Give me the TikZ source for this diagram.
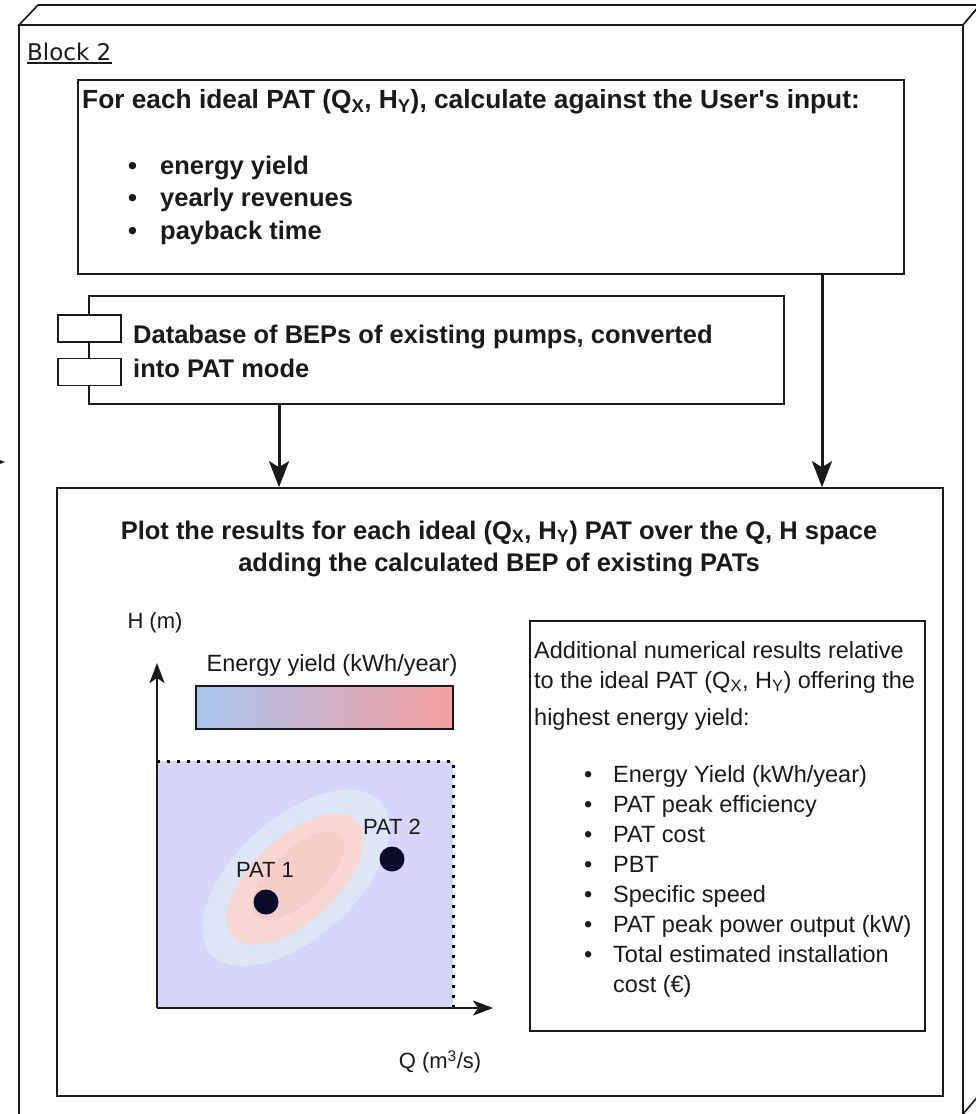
\documentclass[tikz,border=0pt]{standalone}
\usepackage{fontspec}
\setmainfont{Liberation Sans}
\newfontfamily\blockfont{DejaVu Sans}
\usetikzlibrary{arrows.meta,positioning,calc}
\definecolor{ink}{HTML}{1A1A1A}
\definecolor{region}{HTML}{D6D6F8}
\definecolor{haloB}{HTML}{DCE6F6}
\definecolor{haloR}{HTML}{F8D6D1}
\definecolor{coreR}{HTML}{F6CEC9}
\definecolor{patdot}{HTML}{0B0B2B}
\definecolor{barlow}{HTML}{A8C4EC}
\definecolor{barhigh}{HTML}{F6A0A0}
\tikzset{
  % ---- boxes -----------------------------------------------------
  frame/.style   = {draw=ink, line width=1.6pt, line join=miter},
  box/.style     = {draw=ink, line width=1.6pt, fill=white, inner sep=0pt},
  part/.style    = {box, minimum width=63pt, minimum height=27pt},
  % ---- texts -----------------------------------------------------
  hd/.style      = {font=\fontsize{25.5}{32.5}\selectfont\bfseries,
                    text=ink, inner sep=0pt},
  dbtxt/.style   = {hd, font=\fontsize{25.5}{34}\selectfont\bfseries},
  txt/.style     = {font=\fontsize{23.5}{30}\selectfont, text=ink,
                    inner sep=0pt},
  lbl/.style     = {font=\fontsize{22}{26}\selectfont, text=ink,
                    inner sep=0pt},
  blk/.style     = {font=\blockfont\fontsize{23}{28}\selectfont, text=ink,
                    inner sep=0pt},
  % ---- connectors ------------------------------------------------
  flow/.style    = {draw=ink, line width=3pt,
                    -{Stealth[length=26pt, width=20pt, inset=6pt]}},
  axis/.style    = {draw=ink, line width=2.4pt,
                    -{Stealth[length=20pt, width=15pt, inset=5pt]}},
  % ---- plot ------------------------------------------------------
  pat/.style     = {circle, fill=patdot, minimum size=25pt, inner sep=0pt},
  edge/.style    = {draw=black, line width=3pt, dash pattern=on 3pt off 7pt},
}
\begin{document}
\begin{tikzpicture}[x=1pt, y=-1pt]
\useasboundingbox (0,0) rectangle (976,1114);
\fill[white] (0,0) rectangle (976,1114);
\clip (0,0) rectangle (976,1114);
% outer block
\draw[frame, fill=white] (19,25) -- (38,5) -- (980,5) -- (963,25) -- cycle;
\draw[frame, fill=white] (963,25) -- (980,5) -- (980,1094) -- (963,1114);
\draw[frame, fill=white] (19,25) rectangle (963,1120);
\node[blk, anchor=base west] (blk) at (27,60) {Block 2};
\draw[ink, line width=1.3pt] ([yshift=-3pt]blk.base west) -- ([yshift=-3pt]blk.base east);
% incoming arrow from the left
\coordinate (inS) at (-40,462);
\coordinate (inE) at (5,462);
\draw[flow] (inS) -- (inE);
% calculation box
\node[box, minimum width=826pt, minimum height=194pt] (calcbox) at (491,177) {};
\node[hd, font=\fontsize{26.3}{32.5}\selectfont\bfseries, anchor=base west] (calc) at (82,108)
  {For each ideal PAT (Q\textsubscript{X}, H\textsubscript{Y}), calculate against the User\textquotesingle s input:};
\node[hd, anchor=base west] (calclist) at (128,174)
  {\begin{tabular}[t]{@{}l@{}}
   \makebox[32pt][l]{\textbullet}energy yield\\
   \makebox[32pt][l]{\textbullet}yearly revenues\\
   \makebox[32pt][l]{\textbullet}payback time
   \end{tabular}};
% database component
\node[box, minimum width=695pt, minimum height=108pt] (dbbox) at (436.5,350) {};
\node[part] (dbpartA) at (89.5,328.5) {};
\node[part] (dbpartB) at (89.5,372) {};
\node[dbtxt, anchor=base west] (dbtext) at (133,343)
  {\begin{tabular}[t]{@{}l@{}}
   Database of BEPs of existing pumps, converted\\
   into PAT mode
   \end{tabular}};
% plot box
\node[box, minimum width=886pt, minimum height=608pt] (plotbox) at (500,792) {};
\node[hd, anchor=base] (plottitle) at (499,539)
  {\begin{tabular}[t]{@{}c@{}}
   Plot the results for each ideal (Q\textsubscript{X}, H\textsubscript{Y}) PAT over the Q, H space\\
   adding the calculated BEP of existing PATs
   \end{tabular}};
\draw[flow] ([xshift=331pt]calcbox.south) -- ([xshift=331pt]calcbox.south |- plotbox.north);
\draw[flow] ([xshift=-157.5pt]dbbox.south) -- ([xshift=-157.5pt]dbbox.south |- plotbox.north);
% Q-H map
\fill[region] (157,761) rectangle (453,1008);
\fill[haloB, rotate around={42:(296,878)}] (296,878) ellipse [x radius=114, y radius=60];
\fill[haloR, rotate around={43:(295,879)}] (295,879) ellipse [x radius=85, y radius=42];
\fill[coreR, rotate around={43:(298,876)}] (298,876) ellipse [x radius=58, y radius=26];
\draw[edge] (157,761) -- (453,761) -- (453,1008);
\coordinate (origin) at (157,1008);
\coordinate (hTop) at (157,663);
\coordinate (qEnd) at (493,1008);
\draw[axis] (origin) -- (hTop);
\draw[axis] (origin) -- (qEnd);
\node[lbl] (hlab) at (155,623) {H (m)};
\node[lbl] (qlab) at (440,1062) {Q (m\textsuperscript{3}/s)};
\node[draw=ink, line width=1.6pt, left color=barlow, right color=barhigh,
      minimum width=257pt, minimum height=43pt, inner sep=0pt] (cbar) at (324.5,707.5) {};
\node[txt] (cbarlab) at (332,665) {Energy yield (kWh/year)};
\node[pat] (pat1) at (266,902) {};
\node[pat] (pat2) at (392,859) {};
\node[lbl] (pat1lab) at (265,870) {PAT 1};
\node[lbl] (pat2lab) at (392,827) {PAT 2};
% additional results
\node[box, minimum width=395pt, minimum height=410pt] (addbox) at (727.5,826) {};
\node[txt, anchor=base west] (addhead) at (534,658)
  {\begin{tabular}[t]{@{}l@{}}
   Additional numerical results relative\\
   to the ideal PAT (Q\textsubscript{X}, H\textsubscript{Y}) offering the\\[7pt]
   highest energy yield:
   \end{tabular}};
\node[txt, anchor=base west] (addlist) at (584,782)
  {\begin{tabular}[t]{@{}l@{}}
   \makebox[29pt][l]{\textbullet}Energy Yield (kWh/year)\\
   \makebox[29pt][l]{\textbullet}PAT peak efficiency\\
   \makebox[29pt][l]{\textbullet}PAT cost\\
   \makebox[29pt][l]{\textbullet}PBT\\
   \makebox[29pt][l]{\textbullet}Specific speed\\
   \makebox[29pt][l]{\textbullet}PAT peak power output (kW)\\
   \makebox[29pt][l]{\textbullet}Total estimated installation\\
   \hspace*{29pt}cost (€)
   \end{tabular}};
\end{tikzpicture}
\end{document}
